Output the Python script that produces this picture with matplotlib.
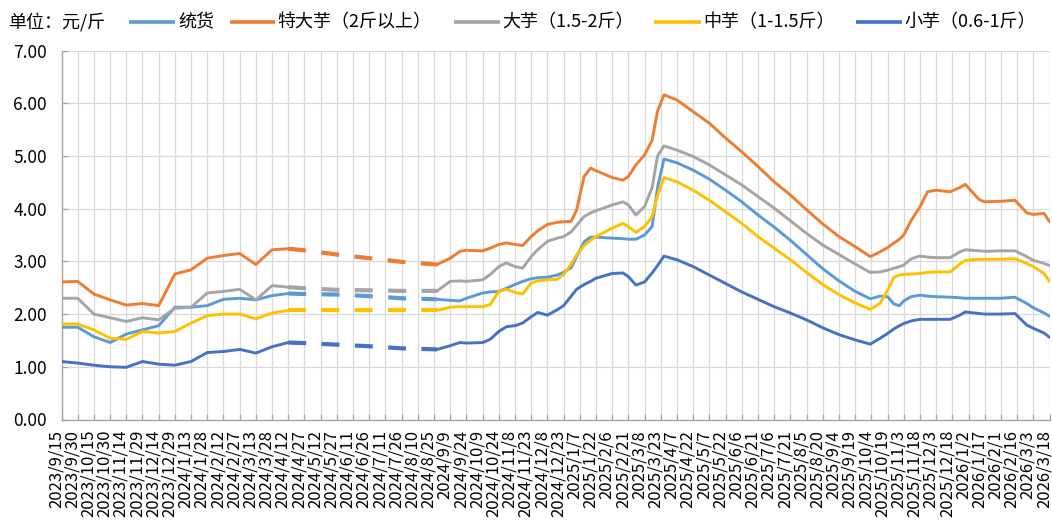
import matplotlib
matplotlib.use('Agg')
import matplotlib.pyplot as plt
import matplotlib.transforms as mtransforms
from matplotlib.lines import Line2D
import numpy as np
import pandas as pd

plt.rcParams['font.family'] = ['Noto Sans CJK SC', 'DejaVu Sans']

# ---------------- data ----------------
DATES = [
    # 2023-09 .. 2024-04 (solid)
    '2023-09-15', '2023-09-30', '2023-10-15', '2023-10-30', '2023-11-14', '2023-11-29',
    '2023-12-14', '2023-12-29', '2024-01-13', '2024-01-28', '2024-02-12', '2024-02-27',
    '2024-03-13', '2024-03-28', '2024-04-12', '2024-04-27',
    # gap period (dashed)
    '2024-05-27', '2024-06-26', '2024-07-26',
    # 2024-08 .. 2026-03 (solid)
    '2024-08-28', '2024-09-09', '2024-09-18', '2024-09-24', '2024-10-09', '2024-10-16',
    '2024-10-24', '2024-10-31', '2024-11-08', '2024-11-15', '2024-11-23', '2024-11-29',
    '2024-12-08', '2024-12-17', '2024-12-23', '2024-12-30', '2025-01-04', '2025-01-11',
    '2025-01-17', '2025-01-22', '2025-02-06', '2025-02-16', '2025-02-21', '2025-02-28',
    '2025-03-08', '2025-03-15', '2025-03-20', '2025-03-26', '2025-04-07', '2025-04-22',
    '2025-05-07', '2025-05-22', '2025-06-06', '2025-06-21', '2025-07-06', '2025-07-21',
    '2025-08-05', '2025-08-20', '2025-09-04', '2025-09-19', '2025-10-03', '2025-10-12',
    '2025-10-19', '2025-10-25', '2025-10-30', '2025-11-03', '2025-11-10', '2025-11-18',
    '2025-11-25', '2025-12-03', '2025-12-16', '2025-12-25', '2025-12-30', '2026-01-12',
    '2026-01-17', '2026-02-01', '2026-02-14', '2026-02-25', '2026-03-03', '2026-03-13',
    '2026-03-18',
]

TONGHUO = [  # 统货
    1.75, 1.75, 1.57, 1.46, 1.62, 1.70, 1.78, 2.13, 2.13, 2.16, 2.28, 2.30, 2.27, 2.35, 2.39, 2.38,
    2.37, 2.34, 2.30,
    2.28, 2.26, 2.25, 2.30, 2.40, 2.42, 2.43, 2.49, 2.56, 2.62, 2.67, 2.69, 2.70, 2.74, 2.79, 2.88,
    3.09, 3.37, 3.46, 3.46, 3.44, 3.43, 3.42, 3.42, 3.50, 3.66, 4.40, 4.94, 4.87, 4.73, 4.56, 4.35,
    4.13, 3.88, 3.65, 3.40, 3.13, 2.86, 2.63, 2.43, 2.29, 2.34, 2.33, 2.19, 2.16, 2.25, 2.33, 2.36,
    2.34, 2.33, 2.32, 2.31, 2.30, 2.30, 2.30, 2.30, 2.32, 2.20, 2.12, 2.02, 1.96,
]

TEDAYU = [  # 特大芋（2斤以上）
    2.61, 2.62, 2.38, 2.27, 2.17, 2.20, 2.16, 2.76, 2.84, 3.06, 3.11, 3.15, 2.94, 3.22, 3.24, 3.21,
    3.13, 3.06, 2.99,
    2.94, 3.06, 3.19, 3.21, 3.20, 3.25, 3.32, 3.35, 3.32, 3.30, 3.47, 3.58, 3.70, 3.74, 3.75, 3.76,
    3.97, 4.61, 4.77, 4.72, 4.59, 4.54, 4.61, 4.83, 5.02, 5.30, 5.85, 6.16, 6.06, 5.84, 5.62, 5.34,
    5.08, 4.80, 4.51, 4.26, 3.98, 3.71, 3.47, 3.28, 3.09, 3.18, 3.26, 3.35, 3.42, 3.50, 3.78, 4.03,
    4.32, 4.35, 4.32, 4.40, 4.46, 4.17, 4.13, 4.14, 4.16, 3.92, 3.89, 3.91, 3.75,
]

DAYU = [  # 大芋（1.5-2斤）
    2.30, 2.30, 2.00, 1.93, 1.86, 1.93, 1.89, 2.11, 2.13, 2.40, 2.43, 2.47, 2.27, 2.54, 2.51, 2.49,
    2.46, 2.45, 2.44,
    2.44, 2.62, 2.63, 2.62, 2.65, 2.75, 2.90, 2.97, 2.90, 2.87, 3.09, 3.22, 3.38, 3.44, 3.47, 3.56,
    3.68, 3.85, 3.92, 3.96, 4.07, 4.13, 4.07, 3.88, 4.04, 4.40, 5.00, 5.19, 5.11, 4.99, 4.83, 4.64,
    4.45, 4.23, 4.01, 3.77, 3.53, 3.31, 3.13, 2.95, 2.79, 2.80, 2.83, 2.87, 2.90, 2.93, 3.05, 3.10,
    3.08, 3.07, 3.07, 3.18, 3.22, 3.20, 3.19, 3.20, 3.20, 3.09, 3.02, 2.96, 2.92,
]

ZHONGYU = [  # 中芋（1-1.5斤）
    1.81, 1.81, 1.70, 1.54, 1.52, 1.67, 1.64, 1.67, 1.83, 1.97, 2.00, 2.00, 1.91, 2.02, 2.07, 2.07,
    2.07, 2.07, 2.07,
    2.07, 2.13, 2.14, 2.14, 2.14, 2.18, 2.43, 2.47, 2.41, 2.38, 2.59, 2.63, 2.65, 2.66, 2.75, 2.95,
    3.12, 3.30, 3.40, 3.47, 3.63, 3.72, 3.66, 3.55, 3.66, 3.85, 4.25, 4.59, 4.51, 4.35, 4.16, 3.94,
    3.72, 3.47, 3.25, 3.03, 2.79, 2.56, 2.37, 2.21, 2.09, 2.20, 2.45, 2.70, 2.74, 2.75, 2.76, 2.77,
    2.79, 2.80, 2.80, 2.95, 3.02, 3.04, 3.04, 3.04, 3.05, 2.96, 2.90, 2.77, 2.62,
]

XIAOYU = [  # 小芋（0.6-1斤）
    1.10, 1.07, 1.03, 1.00, 0.99, 1.10, 1.05, 1.03, 1.10, 1.27, 1.29, 1.33, 1.26, 1.38, 1.46, 1.45,
    1.42, 1.39, 1.35,
    1.33, 1.40, 1.46, 1.45, 1.46, 1.52, 1.67, 1.76, 1.78, 1.83, 1.95, 2.03, 1.98, 2.08, 2.16, 2.34,
    2.47, 2.56, 2.62, 2.68, 2.77, 2.78, 2.71, 2.55, 2.61, 2.78, 2.92, 3.10, 3.03, 2.90, 2.74, 2.58,
    2.42, 2.28, 2.14, 2.02, 1.89, 1.74, 1.61, 1.51, 1.43, 1.54, 1.63, 1.72, 1.78, 1.82, 1.87, 1.90,
    1.90, 1.90, 1.90, 1.98, 2.04, 2.01, 2.00, 2.00, 2.01, 1.79, 1.73, 1.64, 1.56,
]

SERIES_NAMES = ['统货', '特大芋（2斤以上）', '大芋（1.5-2斤）', '中芋（1-1.5斤）', '小芋（0.6-1斤）']
SERIES_VALUES = [TONGHUO, TEDAYU, DAYU, ZHONGYU, XIAOYU]
COLORS = ['#5B9BD5', '#ED7D31', '#A5A5A5', '#FFC000', '#4472C4']

UNIT_LABEL = '单位：元/斤'

# data gap (missing quotes) drawn as dashed connector
DASH_FROM = '2024-04-12'
GAP_START = '2024-04-27'
GAP_END = '2024-08-28'

TICK_LABELS = [
    '2023/9/15', '2023/9/30', '2023/10/15', '2023/10/30', '2023/11/14', '2023/11/29',
    '2023/12/14', '2023/12/29', '2024/1/13', '2024/1/28', '2024/2/12', '2024/2/27',
    '2024/3/13', '2024/3/28', '2024/4/12', '2024/4/27', '2024/5/12', '2024/5/27',
    '2024/6/11', '2024/6/26', '2024/7/11', '2024/7/26', '2024/8/10', '2024/8/25',
    '2024/9/9', '2024/9/24', '2024/10/9', '2024/10/24', '2024/11/8', '2024/11/23',
    '2024/12/8', '2024/12/23', '2025/1/7', '2025/1/22', '2025/2/6', '2025/2/21',
    '2025/3/8', '2025/3/23', '2025/4/7', '2025/4/22', '2025/5/7', '2025/5/22',
    '2025/6/6', '2025/6/21', '2025/7/6', '2025/7/21', '2025/8/5', '2025/8/20',
    '2025/9/4', '2025/9/19', '2025/10/4', '2025/10/19', '2025/11/3', '2025/11/18',
    '2025/12/3', '2025/12/18', '2026/1/2', '2026/1/17', '2026/2/1', '2026/2/16',
    '2026/3/3', '2026/3/18',
]
Y_TICKS = [0, 1, 2, 3, 4, 5, 6, 7]

# ---------------- figure ----------------
W, H = 1052, 532
fig = plt.figure(figsize=(W / 100, H / 100), dpi=100)
fig.patch.set_facecolor('white')

x_left, x_right, y_top, y_bot = 61.5, 1049.5, 50.5, 419.5
ax = fig.add_axes([x_left / W, 1 - y_bot / H, (x_right - x_left) / W, (y_bot - y_top) / H])

d = pd.to_datetime(DATES)
solid1 = d <= pd.Timestamp(GAP_START)
solid2 = d >= pd.Timestamp(GAP_END)
dash = (d >= pd.Timestamp(DASH_FROM)) & (d <= pd.Timestamp(GAP_END))

for vals, color in zip(SERIES_VALUES, COLORS):
    v = np.array(vals, dtype=float)
    for m in (solid1, solid2):
        ax.plot(d[m], v[m], color=color, lw=2.1, solid_joinstyle='round',
                solid_capstyle='round', zorder=3)
    ax.plot(d[dash], v[dash], color=color, lw=3.0, linestyle=(0, (4.3, 3.7)),
            dash_capstyle='butt', zorder=3)

tick_dates = pd.to_datetime(TICK_LABELS, format='%Y/%m/%d')
ax.set_xlim(tick_dates[0], tick_dates[-1])
ax.set_ylim(0, 7)
ax.set_xticks(tick_dates)
ax.set_xticklabels(TICK_LABELS, rotation=90, fontsize=12, ha='center', va='top')
ax.set_yticks(Y_TICKS)
ax.set_yticklabels([f'{y:.2f}' for y in Y_TICKS], fontsize=12.5)

ax.grid(True, color='#D9D9D9', lw=0.9, zorder=0)
ax.set_axisbelow(True)
for s in ('top', 'right'):
    ax.spines[s].set_visible(False)
for s in ('left', 'bottom'):
    ax.spines[s].set_color('#A6A6A6')
    ax.spines[s].set_linewidth(1.0)
ax.tick_params(axis='x', direction='in', length=4.5, width=0.9, color='#A6A6A6',
               pad=7.5, labelcolor='black')
ax.tick_params(axis='y', direction='in', length=4.5, width=0.9, color='#A6A6A6',
               pad=10.5, labelcolor='black')

# the reference's rotated date labels sit slightly left of their ticks
shift = mtransforms.ScaledTranslation(-5.5 / 100, 0, fig.dpi_scale_trans)
for lab in ax.get_xticklabels():
    lab.set_transform(lab.get_transform() + shift)

# legend row (manual placement to match the reference)
y_leg = 1 - 22 / H
fig.text(8 / W, y_leg, UNIT_LABEL, fontsize=13, ha='left', va='center')
leg_pos = [(129, 175, 178), (230, 275, 277), (454, 500, 502), (654, 701, 703), (856, 902, 904)]
for (x0, x1, xt), name, color in zip(leg_pos, SERIES_NAMES, COLORS):
    fig.add_artist(Line2D([x0 / W, x1 / W], [y_leg, y_leg], transform=fig.transFigure,
                          color=color, lw=2.6, solid_capstyle='butt'))
    fig.text(xt / W, y_leg, name, fontsize=13, ha='left', va='center')

fig.savefig('out.png', dpi=100, facecolor='white')
